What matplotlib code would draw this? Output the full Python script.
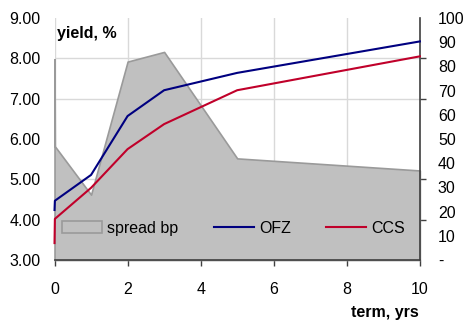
import matplotlib.pyplot as plt
import numpy as np
from matplotlib.ticker import FuncFormatter

# data
term = [0, 0.01, 1, 2, 3, 5, 10]          # years
spread = [83, 47, 27, 82, 86, 42, 37]      # bp, right axis
ofz = [4.24, 4.47, 5.11, 6.57, 7.21, 7.64, 8.42]
ccs = [3.42, 4.02, 4.79, 5.75, 6.37, 7.21, 8.05]

plt.rcParams['font.family'] = ['Liberation Sans', 'DejaVu Sans']
plt.rcParams['font.size'] = 11.5

dark = '#404040'
fig = plt.figure(figsize=(4.66, 3.22), dpi=100)

# base axes: spread area on the right scale, carries grid + x axis
ax2 = fig.add_axes([0.117, 0.1925, 0.784, 0.7515])
ax2.set_axisbelow(True)
area = ax2.fill_between(term, spread, color='#c0c0c0', edgecolor='#9a9a9a',
                        linewidth=1.2, label='spread bp', clip_on=False)

# twin axes: yields on the left scale (twinx moves ax2 ticks, fix after)
ax = ax2.twinx()
ax.yaxis.tick_left()
ax.yaxis.set_label_position('left')
ax2.yaxis.tick_right()

ax2.set_xlim(0, 10)
ax2.set_ylim(0, 100)
ax2.set_xticks(np.arange(0, 11, 2))
ax2.set_yticks(np.arange(0, 101, 10))
ax2.set_yticks(np.linspace(0, 100, 7), minor=True)
ax2.yaxis.set_major_formatter(FuncFormatter(lambda v, p: '-' if v == 0 else f'{v:.0f}'))
ax2.tick_params(axis='y', which='major', length=0, pad=13)
ax2.tick_params(axis='y', which='minor', length=4, direction='out', color=dark, width=1)
ax2.tick_params(axis='x', length=4, direction='out', color=dark, width=1, pad=12)
ax2.grid(True, axis='x', color='#d9d9d9', linewidth=1)
ax2.grid(True, axis='y', which='minor', color='#d9d9d9', linewidth=1)
for s in ['left', 'top']:
    ax2.spines[s].set_visible(False)
for s in ['right', 'bottom']:
    ax2.spines[s].set_color(dark)
    ax2.spines[s].set_linewidth(1.2)

l1, = ax.plot(term, ofz, color='#000080', linewidth=1.5, label='OFZ', clip_on=False)
l2, = ax.plot(term, ccs, color='#c0002a', linewidth=1.5, label='CCS', clip_on=False)
ax.set_ylim(3, 9)
ax.set_yticks(np.arange(3, 10, 1))
ax.yaxis.set_major_formatter(FuncFormatter(lambda v, p: f'{v:.2f}'))
ax.tick_params(axis='y', length=0, pad=10)
for s in ax.spines.values():
    s.set_visible(False)

ax.legend(handles=[area, l1, l2], loc='center left', ncol=3, frameon=False,
          bbox_to_anchor=(0.02, 0.132), borderpad=0, borderaxespad=0,
          handlelength=2.5, handletextpad=0.35, columnspacing=2.2)

ax.text(0.007, 0.938, 'yield, %', transform=ax.transAxes, weight='bold', va='center')
fig.text(419 / 466, 1 - 313 / 322, 'term, yrs', ha='right', va='center', weight='bold')

fig.savefig('out.png', dpi=100)
